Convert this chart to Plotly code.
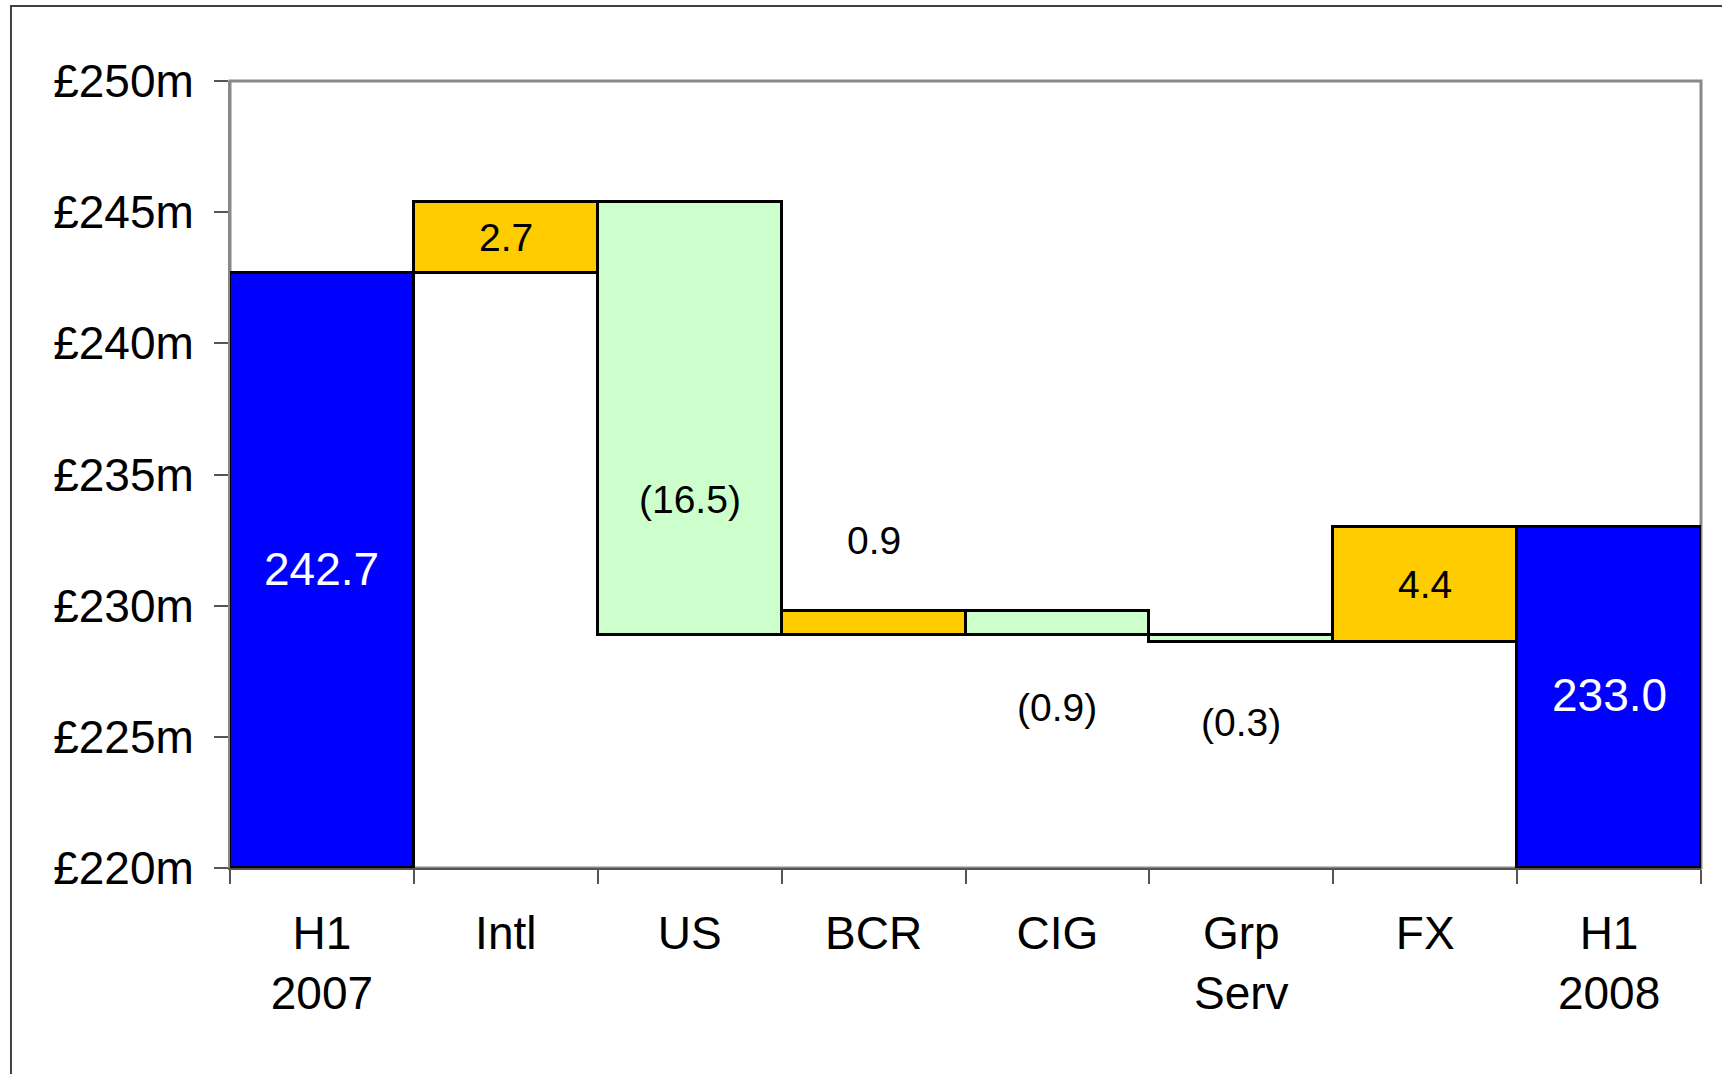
import plotly.graph_objects as go

# Profit bridge H1 2007 -> H1 2008 (£m)
categories = ["H1<br>2007", "Intl", "US", "BCR", "CIG", "Grp<br>Serv", "FX", "H1<br>2008"]
start_total = 242.7
changes = [2.7, -16.5, 0.9, -0.9, -0.3, 4.4]
end_total = 233.0
label_text = ["242.7", "2.7", "(16.5)", "0.9", "(0.9)", "(0.3)", "4.4", "233.0"]
# vertical nudge of each value label from its bar's middle (£m)
label_nudge = [0.05, 0, -3.1, 3.15, -3.25, -3.2, 0, 0.1]

y_floor = 220
y_ceiling = 250
y_ticks = [220, 225, 230, 235, 240, 245, 250]
y_tick_text = ["£%dm" % v for v in y_ticks]

BLUE = "#0000FF"
GOLD = "#FFCC00"
MINT = "#CCFFCC"

bases, heights, colours = [], [], []
bases.append(y_floor)
heights.append(start_total - y_floor)
colours.append(BLUE)
level = start_total
for c in changes:
    lo = level if c >= 0 else level + c
    bases.append(lo)
    heights.append(abs(c))
    colours.append(GOLD if c >= 0 else MINT)
    level += c
bases.append(y_floor)
heights.append(end_total - y_floor)
colours.append(BLUE)

fig = go.Figure()
fig.add_trace(go.Bar(
    x=categories, y=heights, base=bases, width=1.0,
    marker=dict(color=colours, line=dict(color="black", width=3)),
    hoverinfo="skip", showlegend=False,
))

for i, (cat, txt) in enumerate(zip(categories, label_text)):
    mid = bases[i] + heights[i] / 2 + label_nudge[i]
    is_total = colours[i] == BLUE
    fig.add_annotation(
        x=cat, y=mid, text=txt, showarrow=False,
        font=dict(family="Liberation Sans, Arial, sans-serif",
                  size=46 if is_total else 39,
                  color="white" if is_total else "black"),
        xanchor="center", yanchor="middle",
    )

# plot-area frame
fig.add_shape(type="rect", xref="paper", yref="paper", x0=0, y0=0, x1=1, y1=1,
              line=dict(color="#888888", width=3), layer="below")
# outer chart border
fig.add_shape(type="rect", xref="paper", yref="paper",
              x0=-0.1489, y0=-0.5, x1=1.2, y1=1.0953,
              line=dict(color="#404040", width=2), layer="below")

fig.update_layout(
    width=1722, height=1074,
    margin=dict(l=230, r=21, t=81, b=206),
    paper_bgcolor="white", plot_bgcolor="white",
    bargap=0,
    font=dict(family="Liberation Sans, Arial, sans-serif", size=46, color="black"),
)
fig.update_xaxes(
    type="category", tickson="boundaries",
    ticks="outside", ticklen=14, tickwidth=1.5, tickcolor="#555555",
    showline=True, linecolor="#555555", linewidth=2,
    showgrid=False, ticklabelstandoff=24,
    tickfont=dict(size=46), range=[-0.5, 7.5],
)
fig.update_yaxes(
    range=[y_floor, y_ceiling], tickvals=y_ticks, ticktext=y_tick_text,
    ticks="outside", ticklen=14, tickwidth=1.5, tickcolor="#555555",
    showline=True, linecolor="#888888", linewidth=2,
    showgrid=False, zeroline=False, ticklabelstandoff=11,
    tickfont=dict(size=46),
)

fig.write_html("out.html")
